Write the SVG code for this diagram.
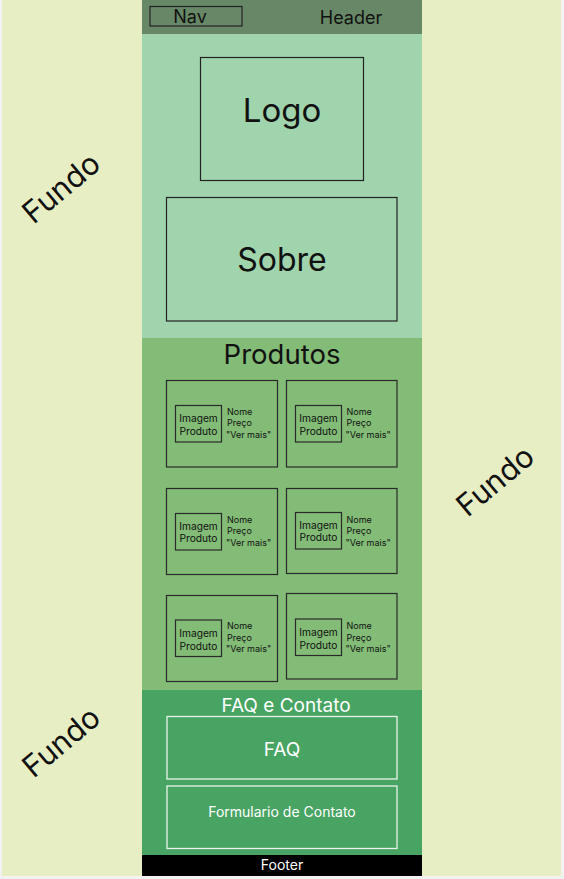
<svg xmlns="http://www.w3.org/2000/svg" width="564" height="879" viewBox="0 0 564 879">
<style>
text{font-family:Inter,"Noto Sans","Liberation Sans",sans-serif;fill:#111}
.box{fill:none;stroke:#222;stroke-width:1.2}
.card{fill:none;stroke:#2a2a2a;stroke-width:1.2}
.img{fill:none;stroke:#2a2a2a;stroke-width:1.2}
.wbox{fill:none;stroke:#e8f4ea;stroke-width:1.3}
.c{text-anchor:middle}
.fundo{font-size:30.5px}
.im{font-size:10.2px;text-anchor:middle;fill:#111}
.meta{font-size:9px;fill:#111}
.w{fill:#fff}
</style>
<rect x="0" y="0" width="564" height="879" fill="#f2f2f2"/>
<rect x="2" y="0" width="559" height="876" fill="#e8eec4"/>
<g id="fundo-labels">
<text class="fundo c" transform="translate(68,196) rotate(-40)">Fundo</text>
<text class="fundo c" transform="translate(502,489) rotate(-40)">Fundo</text>
<text class="fundo c" transform="translate(68,750) rotate(-40)">Fundo</text>
</g>
<g id="header">
<rect x="142" y="0" width="280" height="34" fill="#678867"/>
<g id="nav">
<rect x="150" y="6.5" width="92" height="19.5" class="box"/>
<text class="c" x="190" y="22.5" font-size="18">Nav</text>
</g>
<text class="c" x="351" y="23.5" font-size="18">Header</text>
</g>
<g id="hero">
<rect x="142" y="34" width="280" height="304" fill="#a0d4ac"/>
<g id="logo">
<rect x="200.5" y="57.5" width="163" height="123" class="box"/>
<text class="c" x="282" y="122" font-size="33">Logo</text>
</g>
<g id="sobre">
<rect x="166.5" y="197.5" width="230.5" height="123.5" class="box"/>
<text class="c" x="282" y="271" font-size="32">Sobre</text>
</g>
</g>
<g id="produtos">
<rect x="142" y="338" width="280" height="352" fill="#82bc76"/>
<text class="c" x="282" y="364" font-size="27.5">Produtos</text>
<g id="card1">
<rect x="166.5" y="380.5" width="111" height="86.5" class="card"/>
<rect x="175.5" y="405.5" width="46" height="36.5" class="img"/>
<text class="im" x="198.5" y="422">Imagem</text><text class="im" x="198.5" y="434.5">Produto</text>
<text class="meta" x="227" y="414.5">Nome</text><text class="meta" x="227" y="426">Preço</text><text class="meta" x="226" y="437.5">"Ver mais"</text>
</g>
<g id="card2">
<rect x="286.5" y="380.5" width="110.5" height="86.5" class="card"/>
<rect x="295.5" y="405.5" width="46" height="36.5" class="img"/>
<text class="im" x="318.5" y="422">Imagem</text><text class="im" x="318.5" y="434.5">Produto</text>
<text class="meta" x="346.5" y="414.5">Nome</text><text class="meta" x="346.5" y="426">Preço</text><text class="meta" x="345.5" y="437.5">"Ver mais"</text>
</g>
<g id="card3">
<rect x="166.5" y="488.5" width="111" height="86" class="card"/>
<rect x="175.5" y="513.5" width="46" height="36.5" class="img"/>
<text class="im" x="198.5" y="529.5">Imagem</text><text class="im" x="198.5" y="542">Produto</text>
<text class="meta" x="227" y="522.5">Nome</text><text class="meta" x="227" y="534">Preço</text><text class="meta" x="226" y="545.5">"Ver mais"</text>
</g>
<g id="card4">
<rect x="286.5" y="488.5" width="110.5" height="85" class="card"/>
<rect x="295.5" y="512.5" width="46" height="36.5" class="img"/>
<text class="im" x="318.5" y="528.5">Imagem</text><text class="im" x="318.5" y="541">Produto</text>
<text class="meta" x="346.5" y="522.5">Nome</text><text class="meta" x="346.5" y="534">Preço</text><text class="meta" x="345.5" y="545.5">"Ver mais"</text>
</g>
<g id="card5">
<rect x="166.5" y="595.5" width="111" height="86" class="card"/>
<rect x="175.5" y="620" width="46" height="36.5" class="img"/>
<text class="im" x="198.5" y="637">Imagem</text><text class="im" x="198.5" y="649.5">Produto</text>
<text class="meta" x="227" y="629">Nome</text><text class="meta" x="227" y="640.5">Preço</text><text class="meta" x="226" y="652">"Ver mais"</text>
</g>
<g id="card6">
<rect x="286.5" y="593.5" width="110.5" height="85.5" class="card"/>
<rect x="295.5" y="619" width="46" height="36.5" class="img"/>
<text class="im" x="318.5" y="636">Imagem</text><text class="im" x="318.5" y="648.5">Produto</text>
<text class="meta" x="346.5" y="629">Nome</text><text class="meta" x="346.5" y="640.5">Preço</text><text class="meta" x="345.5" y="652">"Ver mais"</text>
</g>
</g>
<g id="faq-contato">
<rect x="142" y="690" width="280" height="165" fill="#47a462"/>
<text class="c w" x="286" y="712" font-size="19">FAQ e Contato</text>
<g id="faq">
<rect x="167" y="716.5" width="230" height="62.5" class="wbox"/>
<text class="c w" x="282" y="756" font-size="19">FAQ</text>
</g>
<g id="formulario">
<rect x="167" y="786" width="230" height="62.5" class="wbox"/>
<text class="c w" x="282" y="817" font-size="14">Formulario de Contato</text>
</g>
</g>
<g id="footer">
<rect x="142" y="855" width="280" height="21" fill="#000"/>
<text class="c w" x="282" y="870" font-size="14">Footer</text>
</g>
<g id="connectors"/>
</svg>
